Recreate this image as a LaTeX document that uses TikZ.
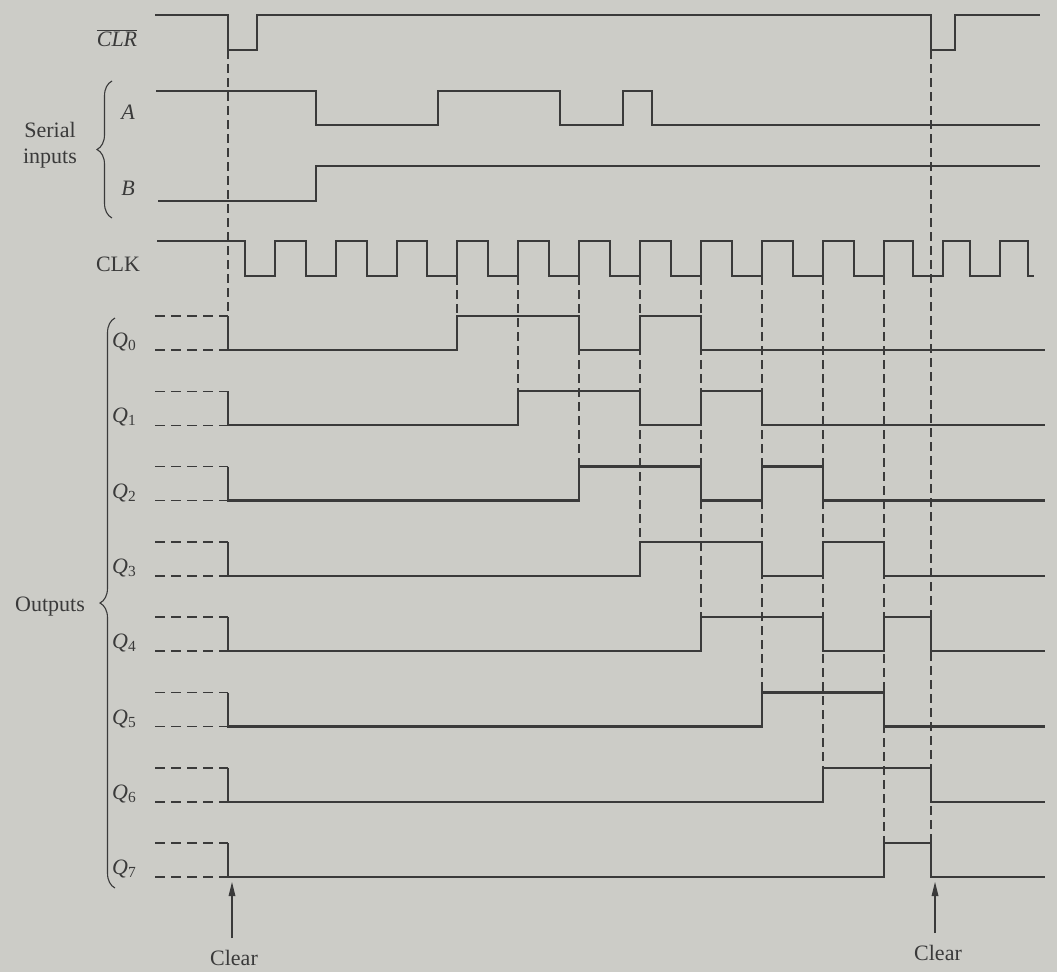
\documentclass[tikz,border=0pt]{standalone}
\usepackage{fontspec}
\setmainfont{Liberation Serif}
\usetikzlibrary{arrows.meta,decorations.pathreplacing}
\definecolor{paper}{RGB}{204,204,199}
\definecolor{ink}{RGB}{58,58,58}
\begin{document}
\begin{tikzpicture}[x=1pt,y=-1pt,
  wave/.style={draw=ink,line width=2.3pt,line join=miter},
  guide/.style={draw=ink,line width=1.5pt,dash pattern=on 9pt off 5pt},
  qdash/.style={draw=ink,line width=1.6pt,dash pattern=on 10pt off 6pt},
  lbl/.style={text=ink,font=\fontsize{22}{26}\selectfont,inner sep=0pt},
  brc/.style={draw=ink,line width=1.1pt,decorate,decoration={brace,amplitude=15pt,aspect=0.5}},
  clrline/.style={draw=ink,line width=1.4pt},
  tiphead/.style={fill=ink}]
\useasboundingbox (0,0) rectangle (1057,972);
\fill[paper] (0,0) rectangle (1057,972);

% labels
\node[lbl] (clrlbl) at (117,38) {$\overline{\mbox{\itshape CLR}}$};
\node[lbl] (alabel) at (128,112) {\itshape A};
\node[lbl] (blabel) at (128,188) {\itshape B};
\node[lbl] (clklbl) at (118,264) {CLK};
\node[lbl,align=center] (serial) at (50,145) {Serial\\inputs};
\node[lbl] (outputs) at (50,607) {Outputs};
\foreach \i in {0,...,7}{
  \node[lbl,anchor=west] (q\i) at (112,{342+75.3*\i}) {{\itshape Q}\textsubscript{\i}};
}

% braces
\draw[brc] (112,218) -- (112,81);
\draw[brc] (115,888) -- (115,318);

% CLR
\draw[wave] (155,15) -- (228,15) -- (228,50) -- (257,50) -- (257,15) -- (931,15) -- (931,50) -- (955,50) -- (955,15) -- (1040,15);
% A
\draw[wave] (156,91) -- (316,91) -- (316,125) -- (438,125) -- (438,91) -- (560,91) -- (560,125) -- (623,125) -- (623,91) -- (652,91) -- (652,125) -- (1040,125);
% B
\draw[wave] (158,201) -- (316,201) -- (316,166) -- (1040,166);
% CLK
\draw[wave] (157,241) \foreach \r in {275,336,397,457,518,579,640,701,762,823,884,943,1000}{ -- (\r-30,241) -- (\r-30,276) -- (\r,276) -- (\r,241) } -- (1028,241) -- (1028,276) -- (1034,276);

% Q outputs: initial unknown levels
\foreach \i in {0,...,7}{
  \pgfmathsetmacro\H{316+75.3*\i}
  \pgfmathsetmacro\L{350+75.3*\i}
  \draw[qdash] (155,\H) -- (228,\H);
  \draw[qdash] (155,\L) -- (228,\L);
}
\def\QH#1{316+75.3*#1}
\def\QL#1{350+75.3*#1}
\draw[wave] (228,{\QH0}) -- (228,{\QL0}) -- (457,{\QL0}) -- (457,{\QH0}) -- (579,{\QH0}) -- (579,{\QL0}) -- (640,{\QL0}) -- (640,{\QH0}) -- (701,{\QH0}) -- (701,{\QL0}) -- (1045,{\QL0});
\draw[wave] (228,{\QH1}) -- (228,{\QL1}) -- (518,{\QL1}) -- (518,{\QH1}) -- (640,{\QH1}) -- (640,{\QL1}) -- (701,{\QL1}) -- (701,{\QH1}) -- (762,{\QH1}) -- (762,{\QL1}) -- (1045,{\QL1});
\draw[wave] (228,{\QH2}) -- (228,{\QL2}) -- (579,{\QL2}) -- (579,{\QH2}) -- (701,{\QH2}) -- (701,{\QL2}) -- (762,{\QL2}) -- (762,{\QH2}) -- (823,{\QH2}) -- (823,{\QL2}) -- (1045,{\QL2});
\draw[wave] (228,{\QH3}) -- (228,{\QL3}) -- (640,{\QL3}) -- (640,{\QH3}) -- (762,{\QH3}) -- (762,{\QL3}) -- (823,{\QL3}) -- (823,{\QH3}) -- (884,{\QH3}) -- (884,{\QL3}) -- (1045,{\QL3});
\draw[wave] (228,{\QH4}) -- (228,{\QL4}) -- (701,{\QL4}) -- (701,{\QH4}) -- (823,{\QH4}) -- (823,{\QL4}) -- (884,{\QL4}) -- (884,{\QH4}) -- (931,{\QH4}) -- (931,{\QL4}) -- (1045,{\QL4});
\draw[wave] (228,{\QH5}) -- (228,{\QL5}) -- (762,{\QL5}) -- (762,{\QH5}) -- (884,{\QH5}) -- (884,{\QL5}) -- (1045,{\QL5});
\draw[wave] (228,{\QH6}) -- (228,{\QL6}) -- (823,{\QL6}) -- (823,{\QH6}) -- (931,{\QH6}) -- (931,{\QL6}) -- (1045,{\QL6});
\draw[wave] (228,{\QH7}) -- (228,{\QL7}) -- (884,{\QL7}) -- (884,{\QH7}) -- (931,{\QH7}) -- (931,{\QL7}) -- (1045,{\QL7});

% guide lines
\draw[guide] (228,50) -- (228,316);
\draw[guide] (931,50) -- (931,{\QH7});
\foreach \e/\k in {457/0,518/1,579/2,640/3,701/4,762/5,823/6,884/7}{
  \draw[guide] (\e,276) -- (\e,{\QH\k});
}

% Clear arrows
\node[lbl] (clear1) at (234,958) {Clear};
\node[lbl] (clear2) at (938,953) {Clear};
\coordinate (c1) at (232,882);
\coordinate (c2) at (935,882);
\draw[clrline] (clear1.north -| c1) ++(0,-12) -- ([yshift=-10pt]c1);
\draw[clrline] (clear2.north -| c2) ++(0,-12) -- ([yshift=-10pt]c2);
\fill[tiphead] (c1) -- ++(-3.5,14) -- ++(7,0) -- cycle;
\fill[tiphead] (c2) -- ++(-3.5,14) -- ++(7,0) -- cycle;
\end{tikzpicture}
\end{document}
